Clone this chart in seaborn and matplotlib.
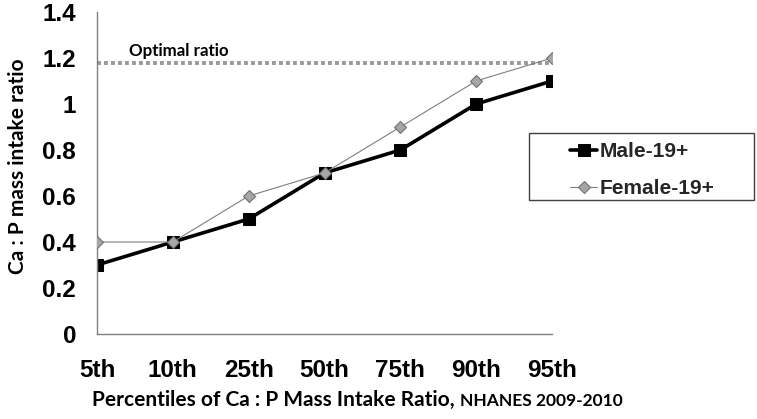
import matplotlib
matplotlib.use("Agg")
import matplotlib.pyplot as plt
import seaborn as sns
import pandas as pd
from matplotlib.patches import Rectangle

percentiles = ["5th", "10th", "25th", "50th", "75th", "90th", "95th"]
male = [0.3, 0.4, 0.5, 0.7, 0.8, 1.0, 1.1]
female = [0.4, 0.4, 0.6, 0.7, 0.9, 1.1, 1.2]
optimal_ratio = 1.18
y_ticks = [0, 0.2, 0.4, 0.6, 0.8, 1, 1.2, 1.4]
y_tick_labels = ["0", "0.2", "0.4", "0.6", "0.8", "1", "1.2", "1.4"]

df = pd.DataFrame({
    "pos": list(range(len(percentiles))) * 2,
    "ratio": male + female,
    "group": ["Male-19+"] * len(male) + ["Female-19+"] * len(female),
})

sns.set_style("white")
plt.rcParams["font.family"] = ["Liberation Sans", "DejaVu Sans"]
calibri_like = ["Lato", "DejaVu Sans"]

fig = plt.figure(figsize=(7.57, 4.19), dpi=100)
ax = fig.add_axes([97 / 757, 1 - 334 / 419, 455 / 757, 322 / 419])

# optimal ratio reference line
ax.axhline(optimal_ratio, color="#999999", lw=2.8, ls=(0, (1.0, 0.8)), zorder=1)

sns.lineplot(data=df[df.group == "Female-19+"], x="pos", y="ratio", ax=ax,
             color="#7f7f7f", lw=0.8, marker="D", markersize=6.5,
             markerfacecolor="#a6a6a6", markeredgecolor="#707070",
             markeredgewidth=0.8, label="Female-19+", legend=False, zorder=3)
sns.lineplot(data=df[df.group == "Male-19+"], x="pos", y="ratio", ax=ax,
             color="black", lw=2.6, marker="s", markersize=9,
             markeredgecolor="black", label="Male-19+", legend=False, zorder=2)

ax.set_xlim(0, len(percentiles) - 1)
ax.set_ylim(0, 1.4)
ax.set_xticks(range(len(percentiles)))
ax.set_xticklabels(percentiles)
ax.set_yticks(y_ticks)
ax.set_yticklabels(y_tick_labels)
ax.tick_params(axis="both", direction="out", length=6, width=1, color="#808080",
               labelsize=17.5, labelcolor="black")
ax.tick_params(axis="x", pad=12)
ax.tick_params(axis="y", pad=9)
for lab in ax.get_xticklabels() + ax.get_yticklabels():
    lab.set_fontweight("bold")

for side in ["top", "right"]:
    ax.spines[side].set_visible(False)
for side in ["left", "bottom"]:
    ax.spines[side].set_color("#808080")
    ax.spines[side].set_linewidth(1)

ax.set_xlabel("")
ax.set_ylabel("")
fig.text(18 / 757, 1 - 166 / 419, "Ca : P mass intake ratio", rotation=90,
         ha="center", va="center", fontsize=15, fontweight="bold",
         family=calibri_like, color="black")

fig.text(129 / 757, 1 - 56 / 419, "Optimal ratio",
         fontsize=12.2, fontweight="bold", family=calibri_like, color="black")

fig.text(92 / 757, 1 - 406 / 419, "Percentiles of Ca : P Mass Intake Ratio,",
         fontsize=15, fontweight="bold", family=calibri_like, color="black")
fig.text(460 / 757, 1 - 406 / 419, "NHANES 2009-2010",
         fontsize=12.5, fontweight="bold", family=calibri_like, color="black")

# legend box
fig.patches.append(Rectangle((529 / 757, 1 - 200 / 419), 225 / 757, 67 / 419,
                             transform=fig.transFigure, fill=False,
                             edgecolor="#404040", lw=1))
handles, labels = ax.get_legend_handles_labels()
order = [labels.index("Male-19+"), labels.index("Female-19+")]
fig.legend([handles[i] for i in order], [labels[i] for i in order],
           loc="center left", bbox_to_anchor=(570 / 757, 1 - 170 / 419),
           frameon=False, prop={"size": 15, "weight": "bold"},
           handlelength=1.3, handletextpad=0.1, labelspacing=0.85,
           borderaxespad=0, borderpad=0)

fig.savefig("out.png", dpi=100)
